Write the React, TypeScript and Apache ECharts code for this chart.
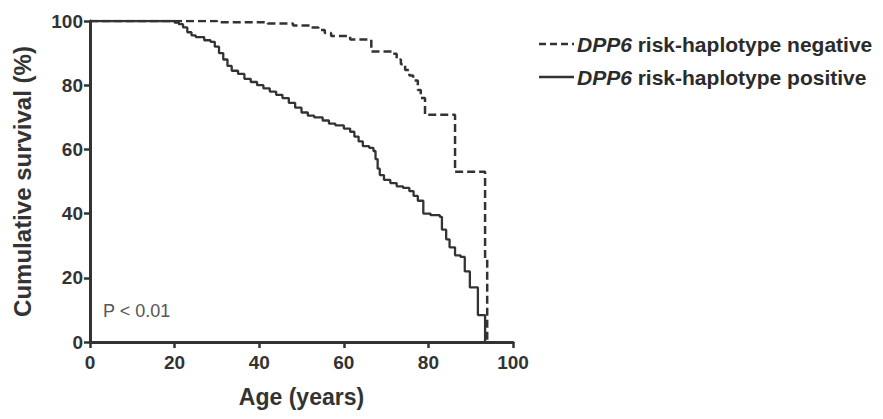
import React, { useEffect, useRef } from "react";
import * as echarts from "echarts";

const xTicks = [0, 20, 40, 60, 80, 100];
const yTicks = [0, 20, 40, 60, 80, 100];

const negativeName = "DPP6 risk-haplotype negative";
const positiveName = "DPP6 risk-haplotype positive";
const legendItalic = "DPP6";
const legendNegativeRest = "risk-haplotype negative";
const legendPositiveRest = "risk-haplotype positive";

const negativeCurve: [number, number][] = [
  [0, 100], [30, 99.6], [42, 99.2], [48, 98.6], [52, 98], [54, 97.2], [55.5, 96.3],
  [57, 95.3], [61.5, 94.2], [66.5, 90.5], [71.5, 89.8], [72.5, 88], [73.5, 86.5],
  [74.5, 84.7], [75.5, 83], [76.4, 81.5], [77.5, 78.5], [78.2, 76], [79.2, 70.8],
  [86.3, 53], [93.4, 26], [93.9, 0],
];

const positiveCurve: [number, number][] = [
  [0, 100], [18, 100], [20, 99.5], [21, 99], [22, 98], [23, 96.5], [24, 95.5], [25, 95],
  [27, 94], [28.5, 93.5], [29.5, 92], [30.5, 90], [31.5, 88], [32.5, 86], [33.5, 84.5],
  [35, 83.5], [36.5, 82], [38, 81], [39.5, 80], [41, 79], [42.5, 78], [44, 77],
  [45.5, 76], [47, 74.5], [48.5, 73], [50, 71.5], [51.5, 70.5], [53, 70], [55, 69],
  [56.5, 68], [58, 67.5], [60, 66.5], [61.5, 65.5], [62.5, 64], [63.5, 62.5],
  [64.5, 61], [66, 60.5], [67, 59.5], [67.5, 57], [68, 54], [68.5, 52], [69.5, 50.5],
  [71, 49.5], [72.5, 48.5], [74, 48], [75.5, 47], [76.5, 45.5], [77.5, 44],
  [78.8, 40], [80.5, 39.5], [82.7, 39], [83.2, 35], [84.2, 32], [85, 29.5],
  [86.3, 27], [87.6, 26.5], [88.6, 22], [89.8, 17], [91.7, 8.4], [93.4, 0],
];

const pValueText = "P < 0.01";

export default function App() {
  const ref = useRef<HTMLDivElement>(null);
  useEffect(() => {
    if (!ref.current) return;
    const chart = echarts.init(ref.current, undefined, { renderer: "svg" });
    const axisColor = "#333";
    const textColor = "#333";
    const font = "Liberation Sans, Arial, sans-serif";
    const legendRich = {
      i: { fontStyle: "italic", fontWeight: "bold", fontSize: 21, fontFamily: font, fill: "#2b2b2b" },
      n: { fontWeight: "bold", fontSize: 21, fontFamily: font, fill: "#2b2b2b" },
    };
    chart.setOption({
      animation: false,
      backgroundColor: "#ffffff",
      grid: { left: 90, right: 370, top: 21, bottom: 77, containLabel: false },
      xAxis: {
        type: "value",
        min: xTicks[0],
        max: xTicks[xTicks.length - 1],
        interval: 20,
        name: "Age (years)",
        nameLocation: "middle",
        nameGap: 43,
        nameTextStyle: { fontSize: 23, color: textColor, fontFamily: font, fontWeight: "bold" },
        axisLine: { show: true, lineStyle: { color: axisColor, width: 3 } },
        axisTick: { show: true, length: 6, lineStyle: { color: axisColor, width: 2.5 } },
        axisLabel: { fontSize: 19, color: textColor, fontFamily: font, fontWeight: "bold", margin: 11 },
        splitLine: { show: false },
      },
      yAxis: {
        type: "value",
        min: yTicks[0],
        max: yTicks[yTicks.length - 1],
        interval: 20,
        name: "Cumulative survival (%)",
        nameLocation: "middle",
        nameGap: 56,
        nameTextStyle: { fontSize: 24, color: textColor, fontFamily: font, fontWeight: "bold" },
        axisLine: { show: true, lineStyle: { color: axisColor, width: 3 } },
        axisTick: { show: true, length: 6, lineStyle: { color: axisColor, width: 2.5 } },
        axisLabel: { fontSize: 19, color: textColor, fontFamily: font, fontWeight: "bold", margin: 7 },
        splitLine: { show: false },
      },
      graphic: [
        {
          type: "text",
          left: 103,
          top: 302,
          style: { text: pValueText, fontSize: 18, fill: "#555", fontFamily: font },
        },
        {
          type: "line",
          shape: { x1: 539, y1: 44, x2: 574, y2: 44 },
          style: { stroke: "#333", lineWidth: 2.5, lineDash: [7, 4] },
        },
        {
          type: "text",
          x: 577,
          y: 44,
          style: {
            text: "{i|" + legendItalic + "} {n|" + legendNegativeRest + "}",
            rich: legendRich,
            verticalAlign: "middle",
            fontSize: 21,
            fontFamily: font,
          },
        },
        {
          type: "line",
          shape: { x1: 539, y1: 77, x2: 574, y2: 77 },
          style: { stroke: "#333", lineWidth: 2.5 },
        },
        {
          type: "text",
          x: 577,
          y: 77,
          style: {
            text: "{i|" + legendItalic + "} {n|" + legendPositiveRest + "}",
            rich: legendRich,
            verticalAlign: "middle",
            fontSize: 21,
            fontFamily: font,
          },
        },
      ],
      series: [
        {
          name: negativeName,
          type: "line",
          step: "end",
          showSymbol: false,
          symbol: "none",
          data: negativeCurve,
          lineStyle: { color: "#333", width: 2.5, type: [8, 4] },
          z: 3,
        },
        {
          name: positiveName,
          type: "line",
          step: "end",
          showSymbol: false,
          symbol: "none",
          data: positiveCurve,
          lineStyle: { color: "#333", width: 2.3 },
          z: 2,
        },
      ],
    });
    return () => chart.dispose();
  }, []);
  return <div ref={ref} style={{ width: 883, height: 419, position: "absolute", left: 0, top: 0 }} />;
}
